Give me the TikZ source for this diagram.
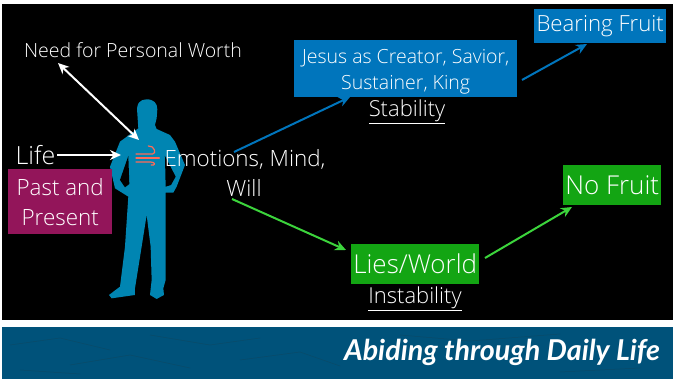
\documentclass[tikz,border=0pt]{standalone}
\usepackage{fontspec}
\setmainfont{Open Sans Light}
\newfontfamily\bandfont{Lato}
\usetikzlibrary{arrows.meta}
\definecolor{boxblue}{HTML}{0075BC}
\definecolor{figblue}{HTML}{0085B2}
\definecolor{boxgreen}{HTML}{13A513}
\definecolor{arrgreen}{HTML}{3CD43C}
\definecolor{boxpurple}{HTML}{93155A}
\definecolor{bandblue}{HTML}{00527A}
\definecolor{banddark}{HTML}{0A4A68}
\definecolor{windred}{HTML}{FF6A58}
\tikzset{
 x=1pt,y=-1pt,
 lbl/.style={text=white,inner sep=0pt,align=center,font=\fontsize{#1}{24}\selectfont},
 solidbox/.style={fill=#1,text=white,inner sep=0pt,align=center,anchor=north west},
 conn/.style={line width=2pt,-{Stealth[length=11pt,width=10pt]},#1},
 windline/.style={windred,line width=1.2pt,line cap=round},
}
\begin{document}
\begin{tikzpicture}
\useasboundingbox (0,0) rectangle (673,379);
\fill[white] (0,0) rectangle (673,379);
\fill[black] (2,4) rectangle (673,320);
\fill[bandblue] (2,327.5) rectangle (673,379);
% band texture
\draw[banddark,line width=0.5pt] (10,345) -- (60,338) -- (110,350) (70,365) -- (130,355) -- (190,368) (150,335) -- (210,345) -- (260,338) (240,360) -- (300,352) -- (340,366) (20,370) -- (80,374) (400,335) -- (470,341) -- (560,334) (560,372) -- (640,368);
% figure
\begin{scope}[shift={(0,80)},x=0.3333pt,y=-0.3333pt]
\fill[figblue] (440,58) .. controls (462,58) and (472,70) .. (472,88) -- (470,115) -- (465,135) -- (470,147) -- (510,165) -- (525,185) -- (555,255) -- (530,320) -- (520,338) -- (497,338) -- (497,600) -- (490,625) -- (492,645) -- (470,657) -- (450,645) -- (455,600) -- (452,500) -- (440,405) -- (425,500) -- (405,625) -- (405,645) -- (335,655) -- (327,645) -- (360,620) -- (375,500) -- (385,350) -- (345,325) -- (330,260) -- (360,185) -- (415,145) -- (412,100) .. controls (408,70) and (420,58) .. (440,58) -- cycle;
\fill[black] (385,228) -- (360,300) -- (375,322) -- (388,312) -- cycle;
\fill[black] (495,228) -- (527,290) -- (513,315) -- (497,320) -- cycle;
\draw[windline] (408,222) -- (458,222) .. controls (470,222) and (464,196) .. (445,198);
\draw[windline] (408,234) -- (478,234);
\draw[windline] (408,246) -- (452,246) .. controls (468,246) and (466,258) .. (454,255);
\end{scope}
% nodes
\node[lbl=19.5] (worth) at (133,50) {Need for Personal Worth};
\node[lbl=25] (life) at (35.5,155) {Life};
\node[solidbox=boxpurple,minimum width=104pt,minimum height=65pt,font=\fontsize{22.4}{30}\selectfont] (past) at (8,169) {Past and\\Present};
\node[lbl=22.4] (emo) at (245,159) {Emotions, Mind,};
\node[lbl=22.4] (will) at (244,188) {Will};
\node[solidbox=boxblue,minimum width=223pt,minimum height=57pt,font=\fontsize{19.5}{26}\selectfont] (jesus) at (294,40) {\raisebox{-3pt}[0.7em][0.2em]{Jesus as Creator, Savior,}\\\raisebox{-3pt}[0.7em][0.2em]{Sustainer, King}};
\node[lbl=22] (stab) at (407,111.5) {\underline{Stability}};
\node[solidbox=boxblue,minimum width=132pt,minimum height=34pt,font=\fontsize{22.2}{24}\selectfont] (bear) at (534,9) {Bearing Fruit};
\node[solidbox=boxgreen,minimum width=98pt,minimum height=40pt,font=\fontsize{26}{28}\selectfont] (nofruit) at (563,165) {No Fruit};
\node[solidbox=boxgreen,minimum width=128pt,minimum height=40pt,font=\fontsize{26}{28}\selectfont] (lies) at (351,244) {Lies/World};
\node[lbl=22] (inst) at (415,298.5) {\underline{Instability}};
\node[text=white,inner sep=0pt,font=\fontsize{28.7}{32}\selectfont\bandfont\bfseries\itshape] (band) at (502,352) {Abiding through Daily Life};
% connector ends
\coordinate (chest) at (139,140);
\coordinate (arm) at (121,155);
\coordinate (lifeout) at (57,155);
\coordinate (emoa) at (234,152);
\coordinate (emob) at (232,199);
\coordinate (worthend) at (58,63);
\coordinate (jesusin) at (350,97);
\coordinate (jesusout) at (522,80);
\coordinate (bearin) at (587,44);
\coordinate (liesin) at (346,250);
\coordinate (liesout) at (485,258);
\coordinate (nofruitin) at (572,207);
% connectors
\draw[conn=white,{Stealth[length=11pt,width=10pt]}-{Stealth[length=11pt,width=10pt]}] (worthend) -- (chest);
\draw[conn=white] (lifeout) -- (arm);
\draw[conn=boxblue] (emoa) -- (jesusin);
\draw[conn=boxblue] (jesusout) -- (bearin);
\draw[conn=arrgreen] (emob) -- (liesin);
\draw[conn=arrgreen] (liesout) -- (nofruitin);
\end{tikzpicture}
\end{document}
